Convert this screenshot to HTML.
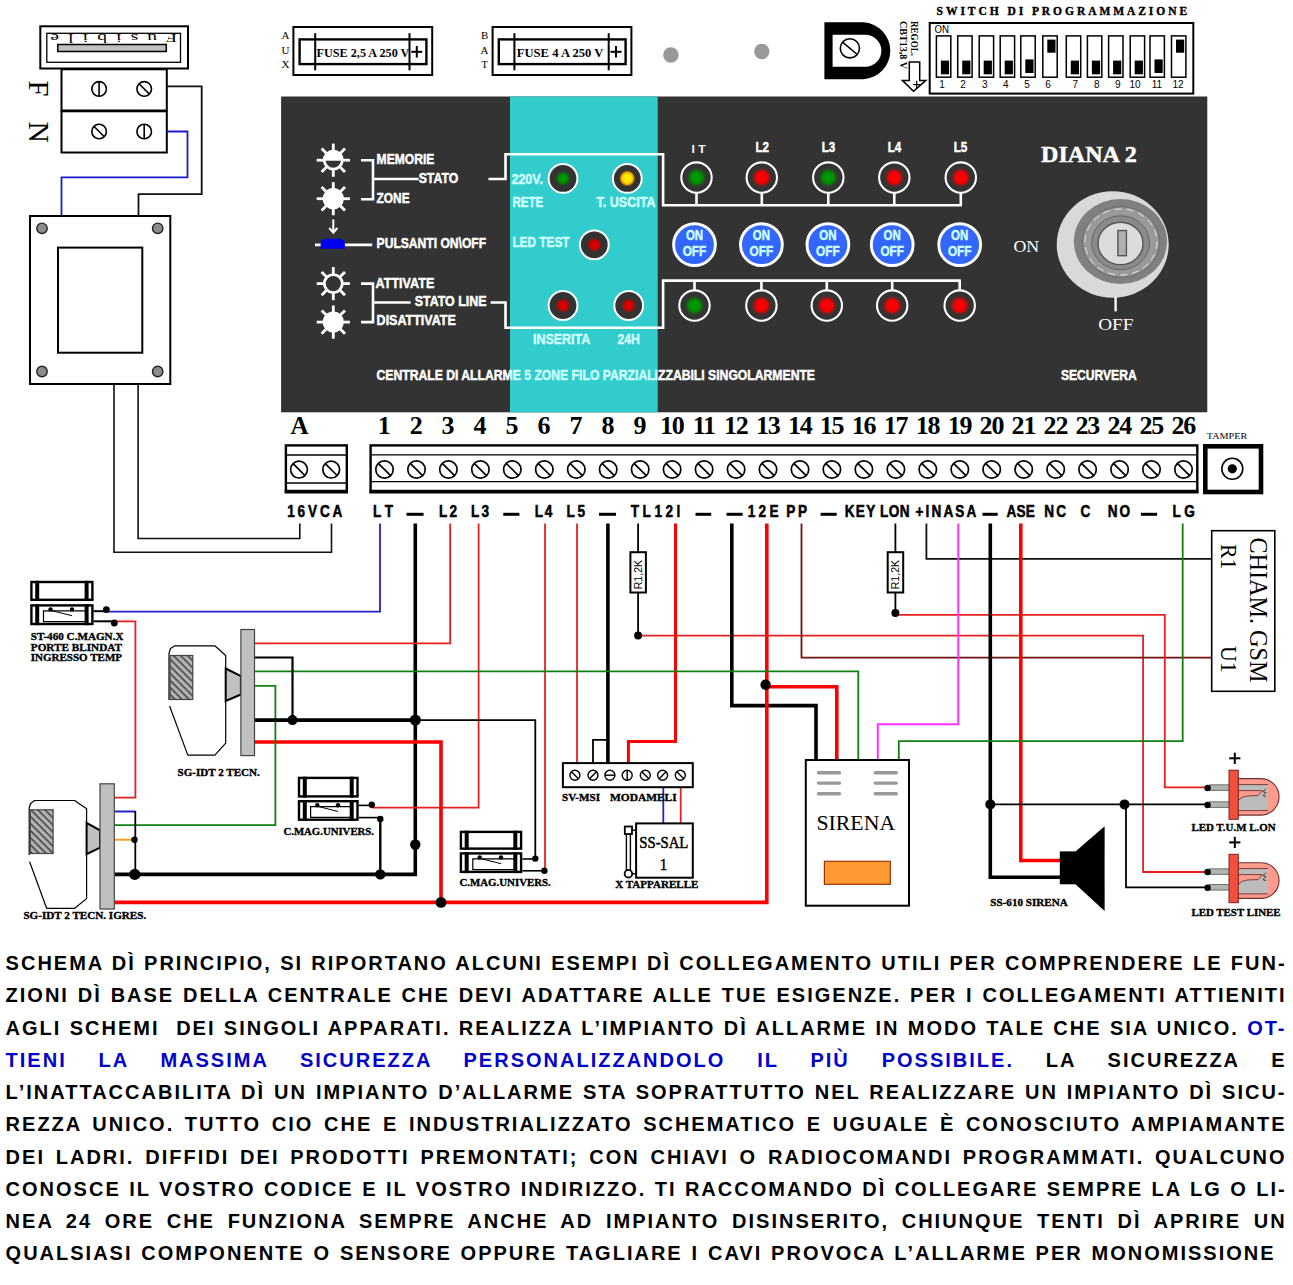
<!DOCTYPE html>
<html lang="it"><head><meta charset="utf-8"><title>DIANA 2 - schema di principio</title>
<style>
html,body{margin:0;padding:0;background:#fff}
#pg{position:relative;width:1293px;height:1285px;overflow:hidden;background:#fff}
svg{position:absolute;left:0;top:0}
.ln{position:absolute;left:5.6px;height:32px;white-space:pre;font:bold 20px/32px "Liberation Sans",sans-serif;letter-spacing:2.0px;color:#000}
.ln b{color:#0000cc;font-weight:bold}
</style></head><body><div id="pg">
<svg width="1293" height="945" viewBox="0 0 1293 945">
<defs>
<radialGradient id="gG"><stop offset="0" stop-color="#00a000"/><stop offset="0.55" stop-color="#008a00"/><stop offset="1" stop-color="#333" stop-opacity="0"/></radialGradient>
<radialGradient id="gR"><stop offset="0" stop-color="#ff0000"/><stop offset="0.55" stop-color="#f00000"/><stop offset="1" stop-color="#333" stop-opacity="0"/></radialGradient>
<radialGradient id="gY"><stop offset="0" stop-color="#ffee00"/><stop offset="0.55" stop-color="#ffe000"/><stop offset="0.8" stop-color="#d07800"/><stop offset="1" stop-color="#333" stop-opacity="0"/></radialGradient>
<radialGradient id="gD"><stop offset="0" stop-color="#e00000"/><stop offset="0.55" stop-color="#cc0000"/><stop offset="1" stop-color="#333" stop-opacity="0"/></radialGradient>
<pattern id="hatch" width="5" height="5" patternUnits="userSpaceOnUse" patternTransform="rotate(45)"><rect width="5" height="5" fill="#b4b4b4"/><rect width="5" height="1.6" fill="#444"/></pattern>
</defs>
<rect x="40.3" y="26.3" width="147.7" height="42.2" fill="#fff" stroke="#000" stroke-width="2" />
<rect x="46.8" y="33.3" width="133.7" height="29.0" fill="#fff" stroke="#000" stroke-width="1.3" />
<rect x="57.8" y="44.5" width="108.5" height="7.0" fill="#c0c0c0" stroke="#000" stroke-width="1.5" />
<g transform="rotate(180 113.6 39)">
<g transform="translate(50.2 43.7) scale(1.45 1)">
<text x="0.0" y="0.0" font-family='"Liberation Serif", serif' font-size="13.5" font-weight="normal" fill="#000" textLength="87.4" lengthAdjust="spacing" >Fusibile</text>
</g>
</g>
<rect x="61.5" y="69.3" width="105.3" height="41.2" fill="#fff" stroke="#000" stroke-width="2" />
<rect x="61.5" y="111.3" width="105.3" height="41.2" fill="#fff" stroke="#000" stroke-width="2" />
<circle cx="99.1" cy="88.9" r="7.3" fill="#fff" stroke="#000" stroke-width="1.6" />
<line x1="99.1" y1="81.6" x2="99.1" y2="96.2" stroke="#000" stroke-width="1.6"/>
<circle cx="144.2" cy="88.9" r="7.3" fill="#fff" stroke="#000" stroke-width="1.6" />
<line x1="139.0" y1="83.7" x2="149.4" y2="94.1" stroke="#000" stroke-width="1.6"/>
<circle cx="99.1" cy="131.5" r="7.3" fill="#fff" stroke="#000" stroke-width="1.6" />
<line x1="93.9" y1="126.3" x2="104.3" y2="136.7" stroke="#000" stroke-width="1.6"/>
<circle cx="144.2" cy="131.5" r="7.3" fill="#fff" stroke="#000" stroke-width="1.6" />
<line x1="144.2" y1="124.2" x2="144.2" y2="138.8" stroke="#000" stroke-width="1.6"/>
<g transform="translate(29.3 80.6) rotate(90)">
<text x="0.0" y="0.0" font-family='"Liberation Serif", serif' font-size="30" font-weight="normal" fill="#000" textLength="16.0" lengthAdjust="spacingAndGlyphs" >F</text>
</g>
<g transform="translate(29.3 121.6) rotate(90)">
<text x="0.0" y="0.0" font-family='"Liberation Serif", serif' font-size="30" font-weight="normal" fill="#000" textLength="21.5" lengthAdjust="spacingAndGlyphs" >N</text>
</g>
<polyline points="166.8,86.4 201.7,86.4 201.7,194.2 138.5,194.2 138.5,215.4" fill="none" stroke="#111" stroke-width="1.8" />
<polyline points="166.8,131.5 187.5,131.5 187.5,177.3 61.5,177.3 61.5,215.4" fill="none" stroke="#1a1acc" stroke-width="1.8" />
<rect x="30.0" y="216.0" width="140.3" height="168.0" fill="#fff" stroke="#000" stroke-width="2" />
<rect x="58.0" y="247.6" width="84.3" height="105.1" fill="#fff" stroke="#000" stroke-width="2" />
<circle cx="42.0" cy="228.3" r="5.2" fill="#8c8c8c" stroke="#222" stroke-width="1.4" />
<circle cx="157.7" cy="228.3" r="5.2" fill="#8c8c8c" stroke="#222" stroke-width="1.4" />
<circle cx="42.0" cy="371.5" r="5.2" fill="#8c8c8c" stroke="#222" stroke-width="1.4" />
<circle cx="157.7" cy="371.5" r="5.2" fill="#8c8c8c" stroke="#222" stroke-width="1.4" />
<polyline points="138.1,384.0 138.1,538.5 299.8,538.5 299.8,523.6" fill="none" stroke="#111" stroke-width="1.6" />
<polyline points="114.0,384.0 114.0,552.2 331.5,552.2 331.5,523.6" fill="none" stroke="#111" stroke-width="1.6" />
<rect x="293.4" y="27.0" width="138.8" height="48.0" fill="#fff" stroke="#000" stroke-width="2" />
<rect x="299.6" y="39.4" width="126.8" height="24.7" fill="#fff" stroke="#000" stroke-width="2.4" />
<polyline points="315.2,33.2 315.2,70.3" fill="none" stroke="#000" stroke-width="2" />
<polyline points="409.5,33.2 409.5,70.3" fill="none" stroke="#000" stroke-width="2" />
<text x="316.6" y="57.0" font-family='"Liberation Serif", serif' font-size="13" font-weight="bold" fill="#000" textLength="92.8" lengthAdjust="spacingAndGlyphs" >FUSE 2,5 A 250 V</text>
<polyline points="411.3,51.8 422.3,51.8" fill="none" stroke="#000" stroke-width="2" />
<polyline points="416.8,46.0 416.8,57.6" fill="none" stroke="#000" stroke-width="2" />
<text x="285.4" y="38.8" font-family='"Liberation Serif", serif' font-size="11" font-weight="normal" fill="#000" text-anchor="middle" >A</text>
<text x="285.4" y="53.5" font-family='"Liberation Serif", serif' font-size="11" font-weight="normal" fill="#000" text-anchor="middle" >U</text>
<text x="285.4" y="68.2" font-family='"Liberation Serif", serif' font-size="11" font-weight="normal" fill="#000" text-anchor="middle" >X</text>
<rect x="492.6" y="27.0" width="138.8" height="48.0" fill="#fff" stroke="#000" stroke-width="2" />
<rect x="498.8" y="39.4" width="126.8" height="24.7" fill="#fff" stroke="#000" stroke-width="2.4" />
<polyline points="514.4,33.2 514.4,70.3" fill="none" stroke="#000" stroke-width="2" />
<polyline points="608.7,33.2 608.7,70.3" fill="none" stroke="#000" stroke-width="2" />
<text x="516.8" y="57.0" font-family='"Liberation Serif", serif' font-size="13" font-weight="bold" fill="#000" textLength="86.6" lengthAdjust="spacingAndGlyphs" >FUSE 4 A 250 V</text>
<polyline points="610.5,51.8 621.5,51.8" fill="none" stroke="#000" stroke-width="2" />
<polyline points="616.0,46.0 616.0,57.6" fill="none" stroke="#000" stroke-width="2" />
<text x="484.6" y="38.8" font-family='"Liberation Serif", serif' font-size="11" font-weight="normal" fill="#000" text-anchor="middle" >B</text>
<text x="484.6" y="53.5" font-family='"Liberation Serif", serif' font-size="11" font-weight="normal" fill="#000" text-anchor="middle" >A</text>
<text x="484.6" y="68.2" font-family='"Liberation Serif", serif' font-size="11" font-weight="normal" fill="#000" text-anchor="middle" >T</text>
<circle cx="670.9" cy="55.0" r="7.7" fill="#999" stroke="none" stroke-width="0" />
<circle cx="761.8" cy="51.5" r="7.7" fill="#999" stroke="none" stroke-width="0" />
<path d="M824.4,22.3 H863.5 A28.5,28.5 0 0 1 863.5,79.2 H824.4 Z M832.6,34.7 V66.8 H865.3 A16.05,16.05 0 0 0 865.3,34.7 Z" fill="#000" fill-rule="evenodd"/>
<circle cx="849.9" cy="48.3" r="9.6" fill="#fff" stroke="#000" stroke-width="1.6" />
<line x1="842.5" y1="42.1" x2="857.3" y2="54.5" stroke="#000" stroke-width="1.6"/>
<g transform="translate(910.5 21) rotate(90)">
<text x="0.0" y="0.0" font-family='"Liberation Serif", serif' font-size="9.5" font-weight="bold" fill="#000" textLength="35.0" lengthAdjust="spacingAndGlyphs" >REGOL.</text>
</g>
<g transform="translate(899.5 21) rotate(90)">
<text x="0.0" y="0.0" font-family='"Liberation Serif", serif' font-size="9.5" font-weight="bold" fill="#000" textLength="48.0" lengthAdjust="spacingAndGlyphs" >CBT13,8 V</text>
</g>
<path d="M909.3,61.9 H919.7 V80.4 H925.9 L913.5,91.3 L902.4,80.4 H909.3 Z" fill="#fff" stroke="#000" stroke-width="1.5"/>
<polyline points="913.2,84.6 920.2,84.6" fill="none" stroke="#000" stroke-width="1.2" />
<polyline points="916.7,80.8 916.7,88.4" fill="none" stroke="#000" stroke-width="1.2" />
<text x="936.6" y="15.3" font-family='"Liberation Serif", serif' font-size="11.5" font-weight="bold" fill="#000" textLength="250.5" lengthAdjust="spacing" stroke="#000" stroke-width="0.4" stroke-linejoin="round" >SWITCH DI PROGRAMMAZIONE</text>
<rect x="929.7" y="23.0" width="263.6" height="70.6" fill="#fff" stroke="#000" stroke-width="2" />
<text x="934.5" y="32.9" font-family='"Liberation Sans", sans-serif' font-size="10.5" font-weight="normal" fill="#000" textLength="14.5" lengthAdjust="spacingAndGlyphs" >ON</text>
<rect x="936.4" y="35.9" width="14.4" height="41.3" fill="#fff" stroke="#000" stroke-width="1.5" />
<rect x="940.9" y="60.6" width="8.2" height="13.7" fill="#000" stroke="none" stroke-width="0" />
<text x="942.1" y="88.0" font-family='"Liberation Sans", sans-serif' font-size="10" font-weight="normal" fill="#000" text-anchor="middle" >1</text>
<rect x="957.7" y="35.9" width="14.4" height="41.3" fill="#fff" stroke="#000" stroke-width="1.5" />
<rect x="962.2" y="60.6" width="8.2" height="13.7" fill="#000" stroke="none" stroke-width="0" />
<text x="963.1" y="88.0" font-family='"Liberation Sans", sans-serif' font-size="10" font-weight="normal" fill="#000" text-anchor="middle" >2</text>
<rect x="979.2" y="35.9" width="14.4" height="41.3" fill="#fff" stroke="#000" stroke-width="1.5" />
<rect x="983.7" y="60.6" width="8.2" height="13.7" fill="#000" stroke="none" stroke-width="0" />
<text x="984.7" y="88.0" font-family='"Liberation Sans", sans-serif' font-size="10" font-weight="normal" fill="#000" text-anchor="middle" >3</text>
<rect x="1000.2" y="35.9" width="14.4" height="41.3" fill="#fff" stroke="#000" stroke-width="1.5" />
<rect x="1004.7" y="60.6" width="8.2" height="13.7" fill="#000" stroke="none" stroke-width="0" />
<text x="1005.9" y="88.0" font-family='"Liberation Sans", sans-serif' font-size="10" font-weight="normal" fill="#000" text-anchor="middle" >4</text>
<rect x="1020.8" y="35.9" width="14.4" height="41.3" fill="#fff" stroke="#000" stroke-width="1.5" />
<rect x="1025.3" y="59.4" width="8.2" height="13.6" fill="#000" stroke="none" stroke-width="0" />
<text x="1027.0" y="88.0" font-family='"Liberation Sans", sans-serif' font-size="10" font-weight="normal" fill="#000" text-anchor="middle" >5</text>
<rect x="1042.8" y="35.9" width="14.4" height="41.3" fill="#fff" stroke="#000" stroke-width="1.5" />
<rect x="1047.3" y="39.6" width="8.2" height="13.1" fill="#000" stroke="none" stroke-width="0" />
<text x="1048.0" y="88.0" font-family='"Liberation Sans", sans-serif' font-size="10" font-weight="normal" fill="#000" text-anchor="middle" >6</text>
<rect x="1066.3" y="35.9" width="14.4" height="41.3" fill="#fff" stroke="#000" stroke-width="1.5" />
<rect x="1070.8" y="60.6" width="8.2" height="13.7" fill="#000" stroke="none" stroke-width="0" />
<text x="1075.2" y="88.0" font-family='"Liberation Sans", sans-serif' font-size="10" font-weight="normal" fill="#000" text-anchor="middle" >7</text>
<rect x="1087.4" y="35.9" width="14.4" height="41.3" fill="#fff" stroke="#000" stroke-width="1.5" />
<rect x="1091.9" y="60.6" width="8.2" height="13.7" fill="#000" stroke="none" stroke-width="0" />
<text x="1096.8" y="88.0" font-family='"Liberation Sans", sans-serif' font-size="10" font-weight="normal" fill="#000" text-anchor="middle" >8</text>
<rect x="1108.6" y="35.9" width="14.4" height="41.3" fill="#fff" stroke="#000" stroke-width="1.5" />
<rect x="1113.1" y="60.6" width="8.2" height="13.7" fill="#000" stroke="none" stroke-width="0" />
<text x="1117.8" y="88.0" font-family='"Liberation Sans", sans-serif' font-size="10" font-weight="normal" fill="#000" text-anchor="middle" >9</text>
<rect x="1130.2" y="35.9" width="14.4" height="41.3" fill="#fff" stroke="#000" stroke-width="1.5" />
<rect x="1134.7" y="60.6" width="8.2" height="13.7" fill="#000" stroke="none" stroke-width="0" />
<text x="1135.1" y="88.0" font-family='"Liberation Sans", sans-serif' font-size="10" font-weight="normal" fill="#000" text-anchor="middle" >10</text>
<rect x="1150.0" y="35.9" width="14.4" height="41.3" fill="#fff" stroke="#000" stroke-width="1.5" />
<rect x="1154.5" y="59.4" width="8.2" height="13.6" fill="#000" stroke="none" stroke-width="0" />
<text x="1156.9" y="88.0" font-family='"Liberation Sans", sans-serif' font-size="10" font-weight="normal" fill="#000" text-anchor="middle" >11</text>
<rect x="1171.5" y="35.9" width="14.4" height="41.3" fill="#fff" stroke="#000" stroke-width="1.5" />
<rect x="1176.0" y="39.6" width="8.2" height="13.1" fill="#000" stroke="none" stroke-width="0" />
<text x="1178.0" y="88.0" font-family='"Liberation Sans", sans-serif' font-size="10" font-weight="normal" fill="#000" text-anchor="middle" >12</text>
<rect x="281.1" y="96.5" width="926.2" height="315.8" fill="#333" stroke="none" stroke-width="0" />
<rect x="510.0" y="96.5" width="147.7" height="315.8" fill="#33cccc" stroke="none" stroke-width="0" />
<line x1="333.3" y1="168.7" x2="333.3" y2="176.8" stroke="#fff" stroke-width="2.8"/>
<line x1="327.3" y1="166.2" x2="321.6" y2="171.9" stroke="#fff" stroke-width="2.8"/>
<line x1="324.8" y1="160.2" x2="316.7" y2="160.2" stroke="#fff" stroke-width="2.8"/>
<line x1="327.3" y1="154.2" x2="321.6" y2="148.5" stroke="#fff" stroke-width="2.8"/>
<line x1="333.3" y1="151.7" x2="333.3" y2="143.6" stroke="#fff" stroke-width="2.8"/>
<line x1="339.3" y1="154.2" x2="345.0" y2="148.5" stroke="#fff" stroke-width="2.8"/>
<line x1="341.8" y1="160.2" x2="349.9" y2="160.2" stroke="#fff" stroke-width="2.8"/>
<line x1="339.3" y1="166.2" x2="345.0" y2="171.9" stroke="#fff" stroke-width="2.8"/>
<circle cx="333.3" cy="160.2" r="9.0" fill="#333" stroke="#fff" stroke-width="2.8" />
<path d="M322.9,160.7 A10.4,10.4 0 0 1 343.7,160.7 Z" fill="#fff"/>
<line x1="333.3" y1="207.2" x2="333.3" y2="215.3" stroke="#fff" stroke-width="2.8"/>
<line x1="327.3" y1="204.7" x2="321.6" y2="210.4" stroke="#fff" stroke-width="2.8"/>
<line x1="324.8" y1="198.7" x2="316.7" y2="198.7" stroke="#fff" stroke-width="2.8"/>
<line x1="327.3" y1="192.7" x2="321.6" y2="187.0" stroke="#fff" stroke-width="2.8"/>
<line x1="333.3" y1="190.2" x2="333.3" y2="182.1" stroke="#fff" stroke-width="2.8"/>
<line x1="339.3" y1="192.7" x2="345.0" y2="187.0" stroke="#fff" stroke-width="2.8"/>
<line x1="341.8" y1="198.7" x2="349.9" y2="198.7" stroke="#fff" stroke-width="2.8"/>
<line x1="339.3" y1="204.7" x2="345.0" y2="210.4" stroke="#fff" stroke-width="2.8"/>
<circle cx="333.3" cy="198.7" r="10.6" fill="#fff" stroke="none" stroke-width="0" />
<line x1="333.3" y1="292.1" x2="333.3" y2="300.2" stroke="#fff" stroke-width="2.8"/>
<line x1="327.3" y1="289.6" x2="321.6" y2="295.3" stroke="#fff" stroke-width="2.8"/>
<line x1="324.8" y1="283.6" x2="316.7" y2="283.6" stroke="#fff" stroke-width="2.8"/>
<line x1="327.3" y1="277.6" x2="321.6" y2="271.9" stroke="#fff" stroke-width="2.8"/>
<line x1="333.3" y1="275.1" x2="333.3" y2="267.0" stroke="#fff" stroke-width="2.8"/>
<line x1="339.3" y1="277.6" x2="345.0" y2="271.9" stroke="#fff" stroke-width="2.8"/>
<line x1="341.8" y1="283.6" x2="349.9" y2="283.6" stroke="#fff" stroke-width="2.8"/>
<line x1="339.3" y1="289.6" x2="345.0" y2="295.3" stroke="#fff" stroke-width="2.8"/>
<circle cx="333.3" cy="283.6" r="9.0" fill="#333" stroke="#fff" stroke-width="2.8" />
<line x1="333.3" y1="330.6" x2="333.3" y2="338.7" stroke="#fff" stroke-width="2.8"/>
<line x1="327.3" y1="328.1" x2="321.6" y2="333.8" stroke="#fff" stroke-width="2.8"/>
<line x1="324.8" y1="322.1" x2="316.7" y2="322.1" stroke="#fff" stroke-width="2.8"/>
<line x1="327.3" y1="316.1" x2="321.6" y2="310.4" stroke="#fff" stroke-width="2.8"/>
<line x1="333.3" y1="313.6" x2="333.3" y2="305.5" stroke="#fff" stroke-width="2.8"/>
<line x1="339.3" y1="316.1" x2="345.0" y2="310.4" stroke="#fff" stroke-width="2.8"/>
<line x1="341.8" y1="322.1" x2="349.9" y2="322.1" stroke="#fff" stroke-width="2.8"/>
<line x1="339.3" y1="328.1" x2="345.0" y2="333.8" stroke="#fff" stroke-width="2.8"/>
<circle cx="333.3" cy="322.1" r="10.6" fill="#fff" stroke="none" stroke-width="0" />
<polyline points="333.3,219.5 333.3,232.0" fill="none" stroke="#fff" stroke-width="2" />
<polyline points="329.3,228.0 333.3,232.7 337.3,228.0" fill="none" stroke="#fff" stroke-width="2" />
<polyline points="315.0,244.8 372.2,244.8" fill="none" stroke="#fff" stroke-width="2.8" />
<path d="M320.6,248.8 V244 Q320.6,238.7 327,238.7 H338.5 Q344.9,238.7 344.9,244 V248.8 Z" fill="#0000ee"/>
<polyline points="361.0,160.2 373.0,160.2 373.0,199.2 361.0,199.2" fill="none" stroke="#fff" stroke-width="2.6" />
<polyline points="373.0,179.0 418.7,179.0" fill="none" stroke="#fff" stroke-width="2.6" />
<polyline points="361.0,283.6 373.0,283.6 373.0,322.1 361.0,322.1" fill="none" stroke="#fff" stroke-width="2.6" />
<polyline points="373.0,302.5 410.6,302.5" fill="none" stroke="#fff" stroke-width="2.6" />
<text x="376.6" y="163.9" font-family='"Liberation Sans", sans-serif' font-size="15" font-weight="bold" fill="#fff" textLength="57.7" lengthAdjust="spacingAndGlyphs" stroke="#fff" stroke-width="0.5" stroke-linejoin="round" >MEMORIE</text>
<text x="418.7" y="182.5" font-family='"Liberation Sans", sans-serif' font-size="15" font-weight="bold" fill="#fff" textLength="39.5" lengthAdjust="spacingAndGlyphs" stroke="#fff" stroke-width="0.5" stroke-linejoin="round" >STATO</text>
<text x="376.6" y="202.7" font-family='"Liberation Sans", sans-serif' font-size="15" font-weight="bold" fill="#fff" textLength="33.0" lengthAdjust="spacingAndGlyphs" stroke="#fff" stroke-width="0.5" stroke-linejoin="round" >ZONE</text>
<text x="376.6" y="247.8" font-family='"Liberation Sans", sans-serif' font-size="15" font-weight="bold" fill="#fff" textLength="109.5" lengthAdjust="spacingAndGlyphs" stroke="#fff" stroke-width="0.5" stroke-linejoin="round" >PULSANTI ON\OFF</text>
<text x="375.6" y="287.9" font-family='"Liberation Sans", sans-serif' font-size="15" font-weight="bold" fill="#fff" textLength="58.7" lengthAdjust="spacingAndGlyphs" stroke="#fff" stroke-width="0.5" stroke-linejoin="round" >ATTIVATE</text>
<text x="414.7" y="305.9" font-family='"Liberation Sans", sans-serif' font-size="15" font-weight="bold" fill="#fff" textLength="71.8" lengthAdjust="spacingAndGlyphs" stroke="#fff" stroke-width="0.5" stroke-linejoin="round" >STATO LINE</text>
<text x="376.6" y="325.1" font-family='"Liberation Sans", sans-serif' font-size="15" font-weight="bold" fill="#fff" textLength="79.2" lengthAdjust="spacingAndGlyphs" stroke="#fff" stroke-width="0.5" stroke-linejoin="round" >DISATTIVATE</text>
<polyline points="488.5,179.0 505.5,179.0 505.5,154.3 663.1,154.3 663.1,205.3 961.9,205.3" fill="none" stroke="#fff" stroke-width="2.6" />
<polyline points="490.6,302.5 505.5,302.5 505.5,327.8 663.1,327.8 663.1,280.6 960.8,280.6" fill="none" stroke="#fff" stroke-width="2.6" />
<text x="511.4" y="184.1" font-family='"Liberation Sans", sans-serif' font-size="15" font-weight="bold" fill="#ccffff" textLength="31.7" lengthAdjust="spacingAndGlyphs" stroke="#ccffff" stroke-width="0.5" stroke-linejoin="round" >220V.</text>
<text x="512.4" y="207.4" font-family='"Liberation Sans", sans-serif' font-size="15" font-weight="bold" fill="#ccffff" textLength="30.7" lengthAdjust="spacingAndGlyphs" stroke="#ccffff" stroke-width="0.5" stroke-linejoin="round" >RETE</text>
<text x="596.4" y="207.4" font-family='"Liberation Sans", sans-serif' font-size="15" font-weight="bold" fill="#ccffff" textLength="59.2" lengthAdjust="spacingAndGlyphs" stroke="#ccffff" stroke-width="0.5" stroke-linejoin="round" >T. USCITA</text>
<text x="512.4" y="247.4" font-family='"Liberation Sans", sans-serif' font-size="15" font-weight="bold" fill="#ccffff" textLength="57.2" lengthAdjust="spacingAndGlyphs" stroke="#ccffff" stroke-width="0.5" stroke-linejoin="round" >LED TEST</text>
<text x="533.0" y="344.0" font-family='"Liberation Sans", sans-serif' font-size="15" font-weight="bold" fill="#ccffff" textLength="57.3" lengthAdjust="spacingAndGlyphs" stroke="#ccffff" stroke-width="0.5" stroke-linejoin="round" >INSERITA</text>
<text x="617.6" y="344.0" font-family='"Liberation Sans", sans-serif' font-size="15" font-weight="bold" fill="#ccffff" textLength="22.3" lengthAdjust="spacingAndGlyphs" stroke="#ccffff" stroke-width="0.5" stroke-linejoin="round" >24H</text>
<circle cx="563.0" cy="178.4" r="14.4" fill="#333" stroke="#fff" stroke-width="2" />
<circle cx="563.0" cy="178.4" r="8.5" fill="url(#gG)" stroke="none" stroke-width="0" />
<circle cx="627.3" cy="178.4" r="14.4" fill="#333" stroke="#fff" stroke-width="2" />
<circle cx="627.3" cy="178.4" r="8.5" fill="url(#gY)" stroke="none" stroke-width="0" />
<circle cx="594.3" cy="244.8" r="14.4" fill="#333" stroke="#fff" stroke-width="2" />
<circle cx="594.3" cy="244.8" r="8.5" fill="url(#gD)" stroke="none" stroke-width="0" />
<circle cx="563.0" cy="305.5" r="14.4" fill="#333" stroke="#fff" stroke-width="2" />
<circle cx="563.0" cy="305.5" r="8.5" fill="url(#gD)" stroke="none" stroke-width="0" />
<circle cx="628.7" cy="305.5" r="14.4" fill="#333" stroke="#fff" stroke-width="2" />
<circle cx="628.7" cy="305.5" r="8.5" fill="url(#gD)" stroke="none" stroke-width="0" />
<polyline points="696.5,192.0 696.5,205.3" fill="none" stroke="#fff" stroke-width="2.6" />
<circle cx="696.5" cy="177.6" r="15.2" fill="#333" stroke="#fff" stroke-width="2.1" />
<circle cx="696.5" cy="177.6" r="11.0" fill="url(#gG)" stroke="none" stroke-width="0" />
<polyline points="761.8,192.0 761.8,205.3" fill="none" stroke="#fff" stroke-width="2.6" />
<circle cx="761.8" cy="177.6" r="15.2" fill="#333" stroke="#fff" stroke-width="2.1" />
<circle cx="761.8" cy="177.6" r="11.0" fill="url(#gR)" stroke="none" stroke-width="0" />
<polyline points="828.3,192.0 828.3,205.3" fill="none" stroke="#fff" stroke-width="2.6" />
<circle cx="828.3" cy="177.6" r="15.2" fill="#333" stroke="#fff" stroke-width="2.1" />
<circle cx="828.3" cy="177.6" r="11.0" fill="url(#gG)" stroke="none" stroke-width="0" />
<polyline points="894.3,192.0 894.3,205.3" fill="none" stroke="#fff" stroke-width="2.6" />
<circle cx="894.3" cy="177.6" r="15.2" fill="#333" stroke="#fff" stroke-width="2.1" />
<circle cx="894.3" cy="177.6" r="11.0" fill="url(#gR)" stroke="none" stroke-width="0" />
<polyline points="960.8,192.0 960.8,205.3" fill="none" stroke="#fff" stroke-width="2.6" />
<circle cx="960.8" cy="177.6" r="15.2" fill="#333" stroke="#fff" stroke-width="2.1" />
<circle cx="960.8" cy="177.6" r="11.0" fill="url(#gR)" stroke="none" stroke-width="0" />
<polyline points="694.5,280.6 694.5,292.0" fill="none" stroke="#fff" stroke-width="2.6" />
<circle cx="694.5" cy="305.6" r="15.2" fill="#333" stroke="#fff" stroke-width="2.1" />
<circle cx="694.5" cy="305.6" r="11.0" fill="url(#gG)" stroke="none" stroke-width="0" />
<polyline points="761.4,280.6 761.4,292.0" fill="none" stroke="#fff" stroke-width="2.6" />
<circle cx="761.4" cy="305.6" r="15.2" fill="#333" stroke="#fff" stroke-width="2.1" />
<circle cx="761.4" cy="305.6" r="11.0" fill="url(#gR)" stroke="none" stroke-width="0" />
<polyline points="826.8,280.6 826.8,292.0" fill="none" stroke="#fff" stroke-width="2.6" />
<circle cx="826.8" cy="305.6" r="15.2" fill="#333" stroke="#fff" stroke-width="2.1" />
<circle cx="826.8" cy="305.6" r="11.0" fill="url(#gR)" stroke="none" stroke-width="0" />
<polyline points="892.2,280.6 892.2,292.0" fill="none" stroke="#fff" stroke-width="2.6" />
<circle cx="892.2" cy="305.6" r="15.2" fill="#333" stroke="#fff" stroke-width="2.1" />
<circle cx="892.2" cy="305.6" r="11.0" fill="url(#gR)" stroke="none" stroke-width="0" />
<polyline points="959.7,280.6 959.7,292.0" fill="none" stroke="#fff" stroke-width="2.6" />
<circle cx="959.7" cy="305.6" r="15.2" fill="#333" stroke="#fff" stroke-width="2.1" />
<circle cx="959.7" cy="305.6" r="11.0" fill="url(#gR)" stroke="none" stroke-width="0" />
<text x="691.5" y="152.7" font-family='"Liberation Sans", sans-serif' font-size="10" font-weight="bold" fill="#fff" textLength="14.1" lengthAdjust="spacingAndGlyphs" >I T</text>
<text x="755.4" y="151.7" font-family='"Liberation Sans", sans-serif' font-size="15" font-weight="bold" fill="#fff" textLength="13.6" lengthAdjust="spacingAndGlyphs" stroke="#fff" stroke-width="0.5" stroke-linejoin="round" >L2</text>
<text x="821.7" y="151.7" font-family='"Liberation Sans", sans-serif' font-size="15" font-weight="bold" fill="#fff" textLength="13.6" lengthAdjust="spacingAndGlyphs" stroke="#fff" stroke-width="0.5" stroke-linejoin="round" >L3</text>
<text x="887.7" y="151.7" font-family='"Liberation Sans", sans-serif' font-size="15" font-weight="bold" fill="#fff" textLength="13.6" lengthAdjust="spacingAndGlyphs" stroke="#fff" stroke-width="0.5" stroke-linejoin="round" >L4</text>
<text x="953.7" y="151.7" font-family='"Liberation Sans", sans-serif' font-size="15" font-weight="bold" fill="#fff" textLength="13.6" lengthAdjust="spacingAndGlyphs" stroke="#fff" stroke-width="0.5" stroke-linejoin="round" >L5</text>
<circle cx="694.5" cy="244.7" r="20.9" fill="#3366ff" stroke="#fff" stroke-width="3" />
<text x="685.9" y="239.7" font-family='"Liberation Sans", sans-serif' font-size="15" font-weight="bold" fill="#ccffff" textLength="17.2" lengthAdjust="spacingAndGlyphs" stroke="#ccffff" stroke-width="0.5" stroke-linejoin="round" >ON</text>
<text x="682.7" y="255.9" font-family='"Liberation Sans", sans-serif' font-size="15" font-weight="bold" fill="#ccffff" textLength="23.6" lengthAdjust="spacingAndGlyphs" stroke="#ccffff" stroke-width="0.5" stroke-linejoin="round" >OFF</text>
<circle cx="761.4" cy="244.7" r="20.9" fill="#3366ff" stroke="#fff" stroke-width="3" />
<text x="752.8" y="239.7" font-family='"Liberation Sans", sans-serif' font-size="15" font-weight="bold" fill="#ccffff" textLength="17.2" lengthAdjust="spacingAndGlyphs" stroke="#ccffff" stroke-width="0.5" stroke-linejoin="round" >ON</text>
<text x="749.6" y="255.9" font-family='"Liberation Sans", sans-serif' font-size="15" font-weight="bold" fill="#ccffff" textLength="23.6" lengthAdjust="spacingAndGlyphs" stroke="#ccffff" stroke-width="0.5" stroke-linejoin="round" >OFF</text>
<circle cx="827.9" cy="244.7" r="20.9" fill="#3366ff" stroke="#fff" stroke-width="3" />
<text x="819.3" y="239.7" font-family='"Liberation Sans", sans-serif' font-size="15" font-weight="bold" fill="#ccffff" textLength="17.2" lengthAdjust="spacingAndGlyphs" stroke="#ccffff" stroke-width="0.5" stroke-linejoin="round" >ON</text>
<text x="816.1" y="255.9" font-family='"Liberation Sans", sans-serif' font-size="15" font-weight="bold" fill="#ccffff" textLength="23.6" lengthAdjust="spacingAndGlyphs" stroke="#ccffff" stroke-width="0.5" stroke-linejoin="round" >OFF</text>
<circle cx="892.2" cy="244.7" r="20.9" fill="#3366ff" stroke="#fff" stroke-width="3" />
<text x="883.6" y="239.7" font-family='"Liberation Sans", sans-serif' font-size="15" font-weight="bold" fill="#ccffff" textLength="17.2" lengthAdjust="spacingAndGlyphs" stroke="#ccffff" stroke-width="0.5" stroke-linejoin="round" >ON</text>
<text x="880.4" y="255.9" font-family='"Liberation Sans", sans-serif' font-size="15" font-weight="bold" fill="#ccffff" textLength="23.6" lengthAdjust="spacingAndGlyphs" stroke="#ccffff" stroke-width="0.5" stroke-linejoin="round" >OFF</text>
<circle cx="959.7" cy="244.7" r="20.9" fill="#3366ff" stroke="#fff" stroke-width="3" />
<text x="951.1" y="239.7" font-family='"Liberation Sans", sans-serif' font-size="15" font-weight="bold" fill="#ccffff" textLength="17.2" lengthAdjust="spacingAndGlyphs" stroke="#ccffff" stroke-width="0.5" stroke-linejoin="round" >ON</text>
<text x="947.9" y="255.9" font-family='"Liberation Sans", sans-serif' font-size="15" font-weight="bold" fill="#ccffff" textLength="23.6" lengthAdjust="spacingAndGlyphs" stroke="#ccffff" stroke-width="0.5" stroke-linejoin="round" >OFF</text>
<text x="1041.1" y="161.9" font-family='"Liberation Serif", serif' font-size="24" font-weight="bold" fill="#fff" textLength="95.6" lengthAdjust="spacingAndGlyphs" stroke="#fff" stroke-width="0.5" stroke-linejoin="round" >DIANA 2</text>
<ellipse cx="1112.7" cy="244.5" rx="56" ry="53.2" fill="#d9d9d9"/>
<ellipse cx="1120.4" cy="241.5" rx="46.6" ry="42.4" fill="#808080"/>
<ellipse cx="1121" cy="242" rx="38.5" ry="35.3" fill="#999" stroke="#6a6a6a" stroke-width="1"/>
<ellipse cx="1121" cy="242" rx="36" ry="33" fill="none" stroke="#e6e6e6" stroke-width="1" stroke-dasharray="7 5"/>
<ellipse cx="1120.6" cy="242.8" rx="28.9" ry="27" fill="#8a8a8a" stroke="#666" stroke-width="1"/>
<ellipse cx="1120.5" cy="243.4" rx="22.5" ry="21.2" fill="#dcdcdc" stroke="#555" stroke-width="1.4"/>
<rect x="1117.9" y="230.5" width="8.5" height="25.2" fill="#b0b0b0" stroke="#555" stroke-width="1.4" />
<polyline points="1115.6,297.0 1115.6,311.4" fill="none" stroke="#fff" stroke-width="2.4" />
<text x="1013.4" y="252.3" font-family='"Liberation Serif", serif' font-size="16" font-weight="normal" fill="#fff" textLength="25.7" lengthAdjust="spacingAndGlyphs" >ON</text>
<text x="1098.2" y="330.2" font-family='"Liberation Serif", serif' font-size="16" font-weight="normal" fill="#fff" textLength="35.2" lengthAdjust="spacingAndGlyphs" >OFF</text>
<text x="1060.9" y="379.8" font-family='"Liberation Sans", sans-serif' font-size="15" font-weight="bold" fill="#fff" textLength="75.8" lengthAdjust="spacingAndGlyphs" stroke="#fff" stroke-width="0.5" stroke-linejoin="round" >SECURVERA</text>
<clipPath id="cOut"><rect x="281" y="360" width="229" height="30"/><rect x="657.7" y="360" width="300" height="30"/></clipPath><clipPath id="cIn"><rect x="510" y="360" width="147.7" height="30"/></clipPath>
<g clip-path="url(#cOut)">
<text x="376.5" y="379.8" font-family='"Liberation Sans", sans-serif' font-size="15" font-weight="bold" fill="#fff" textLength="438.5" lengthAdjust="spacingAndGlyphs" stroke="#fff" stroke-width="0.5" stroke-linejoin="round" >CENTRALE DI ALLARME 5 ZONE FILO PARZIALIZZABILI SINGOLARMENTE</text>
</g>
<g clip-path="url(#cIn)">
<text x="376.5" y="379.8" font-family='"Liberation Sans", sans-serif' font-size="15" font-weight="bold" fill="#ccffff" textLength="438.5" lengthAdjust="spacingAndGlyphs" stroke="#ccffff" stroke-width="0.5" stroke-linejoin="round" >CENTRALE DI ALLARME 5 ZONE FILO PARZIALIZZABILI SINGOLARMENTE</text>
</g>
<text x="299.6" y="434.4" font-family='"Liberation Serif", serif' font-size="25" font-weight="bold" fill="#000" text-anchor="middle" >A</text>
<rect x="285.9" y="445.4" width="60.9" height="46.1" fill="#fff" stroke="#000" stroke-width="2.4" />
<polyline points="284.7,491.6 348.0,491.6" fill="none" stroke="#000" stroke-width="3.8" />
<polyline points="286.0,455.0 346.5,455.0" fill="none" stroke="#000" stroke-width="1.3" />
<polyline points="286.0,483.0 346.5,483.0" fill="none" stroke="#000" stroke-width="1.3" />
<circle cx="299.0" cy="469.6" r="8.4" fill="#fff" stroke="#000" stroke-width="1.7" />
<line x1="293.1" y1="463.7" x2="304.9" y2="475.5" stroke="#000" stroke-width="1.7"/>
<circle cx="331.2" cy="469.6" r="8.4" fill="#fff" stroke="#000" stroke-width="1.7" />
<line x1="325.3" y1="463.7" x2="337.1" y2="475.5" stroke="#000" stroke-width="1.7"/>
<g transform="translate(287.2 517.2) scale(0.8 1)">
<text x="0.0" y="0.0" font-family='"Liberation Sans", sans-serif' font-size="17" font-weight="bold" fill="#000" textLength="69.0" lengthAdjust="spacing" stroke="#000" stroke-width="0.55" stroke-linejoin="round" >16VCA</text>
</g>
<rect x="370.6" y="445.4" width="826.7" height="46.0" fill="#fff" stroke="#000" stroke-width="2.4" />
<polyline points="369.4,491.6 1198.5,491.6" fill="none" stroke="#000" stroke-width="3.8" />
<polyline points="371.0,454.8 1197.0,454.8" fill="none" stroke="#000" stroke-width="1.3" />
<polyline points="371.0,481.6 1197.0,481.6" fill="none" stroke="#000" stroke-width="1.3" />
<circle cx="384.5" cy="469.5" r="8.7" fill="#fff" stroke="#000" stroke-width="1.7" />
<line x1="378.3" y1="463.3" x2="390.7" y2="475.7" stroke="#000" stroke-width="1.7"/>
<text x="384.2" y="434.3" font-family='"Liberation Serif", serif' font-size="26" font-weight="bold" fill="#000" text-anchor="middle" >1</text>
<circle cx="416.5" cy="469.5" r="8.7" fill="#fff" stroke="#000" stroke-width="1.7" />
<line x1="410.3" y1="463.3" x2="422.6" y2="475.7" stroke="#000" stroke-width="1.7"/>
<text x="416.2" y="434.3" font-family='"Liberation Serif", serif' font-size="26" font-weight="bold" fill="#000" text-anchor="middle" >2</text>
<circle cx="448.4" cy="469.5" r="8.7" fill="#fff" stroke="#000" stroke-width="1.7" />
<line x1="442.3" y1="463.3" x2="454.6" y2="475.7" stroke="#000" stroke-width="1.7"/>
<text x="448.1" y="434.3" font-family='"Liberation Serif", serif' font-size="26" font-weight="bold" fill="#000" text-anchor="middle" >3</text>
<circle cx="480.4" cy="469.5" r="8.7" fill="#fff" stroke="#000" stroke-width="1.7" />
<line x1="474.2" y1="463.3" x2="486.5" y2="475.7" stroke="#000" stroke-width="1.7"/>
<text x="480.1" y="434.3" font-family='"Liberation Serif", serif' font-size="26" font-weight="bold" fill="#000" text-anchor="middle" >4</text>
<circle cx="512.3" cy="469.5" r="8.7" fill="#fff" stroke="#000" stroke-width="1.7" />
<line x1="506.2" y1="463.3" x2="518.5" y2="475.7" stroke="#000" stroke-width="1.7"/>
<text x="512.0" y="434.3" font-family='"Liberation Serif", serif' font-size="26" font-weight="bold" fill="#000" text-anchor="middle" >5</text>
<circle cx="544.3" cy="469.5" r="8.7" fill="#fff" stroke="#000" stroke-width="1.7" />
<line x1="538.1" y1="463.3" x2="550.5" y2="475.7" stroke="#000" stroke-width="1.7"/>
<text x="544.0" y="434.3" font-family='"Liberation Serif", serif' font-size="26" font-weight="bold" fill="#000" text-anchor="middle" >6</text>
<circle cx="576.3" cy="469.5" r="8.7" fill="#fff" stroke="#000" stroke-width="1.7" />
<line x1="570.1" y1="463.3" x2="582.4" y2="475.7" stroke="#000" stroke-width="1.7"/>
<text x="576.0" y="434.3" font-family='"Liberation Serif", serif' font-size="26" font-weight="bold" fill="#000" text-anchor="middle" >7</text>
<circle cx="608.2" cy="469.5" r="8.7" fill="#fff" stroke="#000" stroke-width="1.7" />
<line x1="602.1" y1="463.3" x2="614.4" y2="475.7" stroke="#000" stroke-width="1.7"/>
<text x="607.9" y="434.3" font-family='"Liberation Serif", serif' font-size="26" font-weight="bold" fill="#000" text-anchor="middle" >8</text>
<circle cx="640.2" cy="469.5" r="8.7" fill="#fff" stroke="#000" stroke-width="1.7" />
<line x1="634.0" y1="463.3" x2="646.3" y2="475.7" stroke="#000" stroke-width="1.7"/>
<text x="639.9" y="434.3" font-family='"Liberation Serif", serif' font-size="26" font-weight="bold" fill="#000" text-anchor="middle" >9</text>
<circle cx="672.1" cy="469.5" r="8.7" fill="#fff" stroke="#000" stroke-width="1.7" />
<line x1="666.0" y1="463.3" x2="678.3" y2="475.7" stroke="#000" stroke-width="1.7"/>
<text x="671.8" y="434.3" font-family='"Liberation Serif", serif' font-size="26" font-weight="bold" fill="#000" text-anchor="middle" letter-spacing="-1.2" >10</text>
<circle cx="704.1" cy="469.5" r="8.7" fill="#fff" stroke="#000" stroke-width="1.7" />
<line x1="697.9" y1="463.3" x2="710.3" y2="475.7" stroke="#000" stroke-width="1.7"/>
<text x="703.8" y="434.3" font-family='"Liberation Serif", serif' font-size="26" font-weight="bold" fill="#000" text-anchor="middle" letter-spacing="-1.2" >11</text>
<circle cx="736.1" cy="469.5" r="8.7" fill="#fff" stroke="#000" stroke-width="1.7" />
<line x1="729.9" y1="463.3" x2="742.2" y2="475.7" stroke="#000" stroke-width="1.7"/>
<text x="735.8" y="434.3" font-family='"Liberation Serif", serif' font-size="26" font-weight="bold" fill="#000" text-anchor="middle" letter-spacing="-1.2" >12</text>
<circle cx="768.0" cy="469.5" r="8.7" fill="#fff" stroke="#000" stroke-width="1.7" />
<line x1="761.9" y1="463.3" x2="774.2" y2="475.7" stroke="#000" stroke-width="1.7"/>
<text x="767.7" y="434.3" font-family='"Liberation Serif", serif' font-size="26" font-weight="bold" fill="#000" text-anchor="middle" letter-spacing="-1.2" >13</text>
<circle cx="800.0" cy="469.5" r="8.7" fill="#fff" stroke="#000" stroke-width="1.7" />
<line x1="793.8" y1="463.3" x2="806.1" y2="475.7" stroke="#000" stroke-width="1.7"/>
<text x="799.7" y="434.3" font-family='"Liberation Serif", serif' font-size="26" font-weight="bold" fill="#000" text-anchor="middle" letter-spacing="-1.2" >14</text>
<circle cx="831.9" cy="469.5" r="8.7" fill="#fff" stroke="#000" stroke-width="1.7" />
<line x1="825.8" y1="463.3" x2="838.1" y2="475.7" stroke="#000" stroke-width="1.7"/>
<text x="831.6" y="434.3" font-family='"Liberation Serif", serif' font-size="26" font-weight="bold" fill="#000" text-anchor="middle" letter-spacing="-1.2" >15</text>
<circle cx="863.9" cy="469.5" r="8.7" fill="#fff" stroke="#000" stroke-width="1.7" />
<line x1="857.7" y1="463.3" x2="870.1" y2="475.7" stroke="#000" stroke-width="1.7"/>
<text x="863.6" y="434.3" font-family='"Liberation Serif", serif' font-size="26" font-weight="bold" fill="#000" text-anchor="middle" letter-spacing="-1.2" >16</text>
<circle cx="895.9" cy="469.5" r="8.7" fill="#fff" stroke="#000" stroke-width="1.7" />
<line x1="889.7" y1="463.3" x2="902.0" y2="475.7" stroke="#000" stroke-width="1.7"/>
<text x="895.6" y="434.3" font-family='"Liberation Serif", serif' font-size="26" font-weight="bold" fill="#000" text-anchor="middle" letter-spacing="-1.2" >17</text>
<circle cx="927.8" cy="469.5" r="8.7" fill="#fff" stroke="#000" stroke-width="1.7" />
<line x1="921.7" y1="463.3" x2="934.0" y2="475.7" stroke="#000" stroke-width="1.7"/>
<text x="927.5" y="434.3" font-family='"Liberation Serif", serif' font-size="26" font-weight="bold" fill="#000" text-anchor="middle" letter-spacing="-1.2" >18</text>
<circle cx="959.8" cy="469.5" r="8.7" fill="#fff" stroke="#000" stroke-width="1.7" />
<line x1="953.6" y1="463.3" x2="965.9" y2="475.7" stroke="#000" stroke-width="1.7"/>
<text x="959.5" y="434.3" font-family='"Liberation Serif", serif' font-size="26" font-weight="bold" fill="#000" text-anchor="middle" letter-spacing="-1.2" >19</text>
<circle cx="991.7" cy="469.5" r="8.7" fill="#fff" stroke="#000" stroke-width="1.7" />
<line x1="985.6" y1="463.3" x2="997.9" y2="475.7" stroke="#000" stroke-width="1.7"/>
<text x="991.4" y="434.3" font-family='"Liberation Serif", serif' font-size="26" font-weight="bold" fill="#000" text-anchor="middle" letter-spacing="-1.2" >20</text>
<circle cx="1023.7" cy="469.5" r="8.7" fill="#fff" stroke="#000" stroke-width="1.7" />
<line x1="1017.5" y1="463.3" x2="1029.9" y2="475.7" stroke="#000" stroke-width="1.7"/>
<text x="1023.4" y="434.3" font-family='"Liberation Serif", serif' font-size="26" font-weight="bold" fill="#000" text-anchor="middle" letter-spacing="-1.2" >21</text>
<circle cx="1055.7" cy="469.5" r="8.7" fill="#fff" stroke="#000" stroke-width="1.7" />
<line x1="1049.5" y1="463.3" x2="1061.8" y2="475.7" stroke="#000" stroke-width="1.7"/>
<text x="1055.4" y="434.3" font-family='"Liberation Serif", serif' font-size="26" font-weight="bold" fill="#000" text-anchor="middle" letter-spacing="-1.2" >22</text>
<circle cx="1087.6" cy="469.5" r="8.7" fill="#fff" stroke="#000" stroke-width="1.7" />
<line x1="1081.5" y1="463.3" x2="1093.8" y2="475.7" stroke="#000" stroke-width="1.7"/>
<text x="1087.3" y="434.3" font-family='"Liberation Serif", serif' font-size="26" font-weight="bold" fill="#000" text-anchor="middle" letter-spacing="-1.2" >23</text>
<circle cx="1119.6" cy="469.5" r="8.7" fill="#fff" stroke="#000" stroke-width="1.7" />
<line x1="1113.4" y1="463.3" x2="1125.7" y2="475.7" stroke="#000" stroke-width="1.7"/>
<text x="1119.3" y="434.3" font-family='"Liberation Serif", serif' font-size="26" font-weight="bold" fill="#000" text-anchor="middle" letter-spacing="-1.2" >24</text>
<circle cx="1151.5" cy="469.5" r="8.7" fill="#fff" stroke="#000" stroke-width="1.7" />
<line x1="1145.4" y1="463.3" x2="1157.7" y2="475.7" stroke="#000" stroke-width="1.7"/>
<text x="1151.2" y="434.3" font-family='"Liberation Serif", serif' font-size="26" font-weight="bold" fill="#000" text-anchor="middle" letter-spacing="-1.2" >25</text>
<circle cx="1183.5" cy="469.5" r="8.7" fill="#fff" stroke="#000" stroke-width="1.7" />
<line x1="1177.3" y1="463.3" x2="1189.7" y2="475.7" stroke="#000" stroke-width="1.7"/>
<text x="1183.2" y="434.3" font-family='"Liberation Serif", serif' font-size="26" font-weight="bold" fill="#000" text-anchor="middle" letter-spacing="-1.2" >26</text>
<g transform="translate(373.0 516.8) scale(0.8 1)">
<text x="0.0" y="0.0" font-family='"Liberation Sans", sans-serif' font-size="17" font-weight="bold" fill="#000" textLength="25.0" lengthAdjust="spacing" stroke="#000" stroke-width="0.55" stroke-linejoin="round" >LT</text>
</g>
<polyline points="406.5,514.3 423.6,514.3" fill="none" stroke="#000" stroke-width="3" />
<g transform="translate(439.0 516.8) scale(0.8 1)">
<text x="0.0" y="0.0" font-family='"Liberation Sans", sans-serif' font-size="17" font-weight="bold" fill="#000" textLength="22.5" lengthAdjust="spacing" stroke="#000" stroke-width="0.55" stroke-linejoin="round" >L2</text>
</g>
<g transform="translate(471.0 516.8) scale(0.8 1)">
<text x="0.0" y="0.0" font-family='"Liberation Sans", sans-serif' font-size="17" font-weight="bold" fill="#000" textLength="22.5" lengthAdjust="spacing" stroke="#000" stroke-width="0.55" stroke-linejoin="round" >L3</text>
</g>
<polyline points="503.3,514.3 519.4,514.3" fill="none" stroke="#000" stroke-width="3" />
<g transform="translate(534.7 516.8) scale(0.8 1)">
<text x="0.0" y="0.0" font-family='"Liberation Sans", sans-serif' font-size="17" font-weight="bold" fill="#000" textLength="22.1" lengthAdjust="spacing" stroke="#000" stroke-width="0.55" stroke-linejoin="round" >L4</text>
</g>
<g transform="translate(566.5 516.8) scale(0.8 1)">
<text x="0.0" y="0.0" font-family='"Liberation Sans", sans-serif' font-size="17" font-weight="bold" fill="#000" textLength="23.1" lengthAdjust="spacing" stroke="#000" stroke-width="0.55" stroke-linejoin="round" >L5</text>
</g>
<polyline points="599.0,514.3 616.0,514.3" fill="none" stroke="#000" stroke-width="3" />
<g transform="translate(630.8 516.8) scale(0.8 1)">
<text x="0.0" y="0.0" font-family='"Liberation Sans", sans-serif' font-size="17" font-weight="bold" fill="#000" textLength="61.9" lengthAdjust="spacing" stroke="#000" stroke-width="0.55" stroke-linejoin="round" >TL12I</text>
</g>
<polyline points="695.5,514.3 711.2,514.3" fill="none" stroke="#000" stroke-width="3" />
<polyline points="726.5,514.3 742.6,514.3" fill="none" stroke="#000" stroke-width="3" />
<g transform="translate(747.8 516.8) scale(0.8 1)">
<text x="0.0" y="0.0" font-family='"Liberation Sans", sans-serif' font-size="17" font-weight="bold" fill="#000" textLength="38.4" lengthAdjust="spacing" stroke="#000" stroke-width="0.55" stroke-linejoin="round" >12E</text>
</g>
<g transform="translate(786.2 516.8) scale(0.8 1)">
<text x="0.0" y="0.0" font-family='"Liberation Sans", sans-serif' font-size="17" font-weight="bold" fill="#000" textLength="26.2" lengthAdjust="spacing" stroke="#000" stroke-width="0.55" stroke-linejoin="round" >PP</text>
</g>
<polyline points="820.6,514.3 836.7,514.3" fill="none" stroke="#000" stroke-width="3" />
<g transform="translate(844.8 516.8) scale(0.8 1)">
<text x="0.0" y="0.0" font-family='"Liberation Sans", sans-serif' font-size="17" font-weight="bold" fill="#000" textLength="38.0" lengthAdjust="spacing" stroke="#000" stroke-width="0.55" stroke-linejoin="round" >KEY</text>
</g>
<g transform="translate(880.0 516.8) scale(0.8 1)">
<text x="0.0" y="0.0" font-family='"Liberation Sans", sans-serif' font-size="17" font-weight="bold" fill="#000" textLength="36.9" lengthAdjust="spacing" stroke="#000" stroke-width="0.55" stroke-linejoin="round" >LON</text>
</g>
<g transform="translate(915.6 516.8) scale(0.8 1)">
<text x="0.0" y="0.0" font-family='"Liberation Sans", sans-serif' font-size="17" font-weight="bold" fill="#000" textLength="75.9" lengthAdjust="spacing" stroke="#000" stroke-width="0.55" stroke-linejoin="round" >+INASA</text>
</g>
<polyline points="982.4,514.3 997.7,514.3" fill="none" stroke="#000" stroke-width="3" />
<g transform="translate(1006.6 516.8) scale(0.8 1)">
<text x="0.0" y="0.0" font-family='"Liberation Sans", sans-serif' font-size="17" font-weight="bold" fill="#000" textLength="35.4" lengthAdjust="spacing" stroke="#000" stroke-width="0.55" stroke-linejoin="round" >ASE</text>
</g>
<g transform="translate(1044.2 516.8) scale(0.8 1)">
<text x="0.0" y="0.0" font-family='"Liberation Sans", sans-serif' font-size="17" font-weight="bold" fill="#000" textLength="27.4" lengthAdjust="spacing" stroke="#000" stroke-width="0.55" stroke-linejoin="round" >NC</text>
</g>
<g transform="translate(1080.6 516.8) scale(0.8 1)">
<text x="0.0" y="0.0" font-family='"Liberation Sans", sans-serif' font-size="17" font-weight="bold" fill="#000" stroke="#000" stroke-width="0.55" stroke-linejoin="round" >C</text>
</g>
<g transform="translate(1107.7 516.8) scale(0.8 1)">
<text x="0.0" y="0.0" font-family='"Liberation Sans", sans-serif' font-size="17" font-weight="bold" fill="#000" textLength="27.9" lengthAdjust="spacing" stroke="#000" stroke-width="0.55" stroke-linejoin="round" >NO</text>
</g>
<polyline points="1140.9,514.3 1157.1,514.3" fill="none" stroke="#000" stroke-width="3" />
<g transform="translate(1172.5 516.8) scale(0.8 1)">
<text x="0.0" y="0.0" font-family='"Liberation Sans", sans-serif' font-size="17" font-weight="bold" fill="#000" textLength="27.8" lengthAdjust="spacing" stroke="#000" stroke-width="0.55" stroke-linejoin="round" >LG</text>
</g>
<text x="1206.8" y="439.2" font-family='"Liberation Serif", serif' font-size="7.5" font-weight="normal" fill="#000" textLength="40.5" lengthAdjust="spacingAndGlyphs" >TAMPER</text>
<rect x="1205.3" y="446.3" width="55.7" height="45.7" fill="#fff" stroke="#000" stroke-width="4.6" />
<circle cx="1232.3" cy="468.8" r="10.5" fill="#fff" stroke="#000" stroke-width="1.6" />
<circle cx="1232.3" cy="468.8" r="4.6" fill="#000" stroke="none" stroke-width="0" />
<polyline points="380.0,523.5 380.0,611.6 107.0,611.6" fill="none" stroke="#2222cc" stroke-width="1.8" />
<polyline points="415.3,523.5 415.3,874.4 114.4,874.4" fill="none" stroke="#000" stroke-width="3.6" />
<polyline points="450.2,523.5 450.2,643.4 254.6,643.4" fill="none" stroke="#e82020" stroke-width="1.8" />
<polyline points="478.6,523.5 478.6,807.7 372.0,807.7" fill="none" stroke="#e82020" stroke-width="1.8" />
<polyline points="545.0,523.5 545.0,870.8" fill="none" stroke="#e82020" stroke-width="1.8" />
<polyline points="577.0,523.5 577.0,763.0" fill="none" stroke="#e82020" stroke-width="1.8" />
<polyline points="607.9,523.5 607.9,763.0" fill="none" stroke="#000" stroke-width="3.6" />
<polyline points="607.9,739.8 593.0,739.8 593.0,763.0" fill="none" stroke="#000" stroke-width="1.8" />
<polyline points="638.1,635.6 1143.1,635.6 1143.1,872.0 1207.0,872.0" fill="none" stroke="#e82020" stroke-width="1.8" />
<polyline points="638.1,523.5 638.1,635.5" fill="none" stroke="#000" stroke-width="1.8" />
<rect x="630.4" y="552.2" width="15.5" height="40.3" fill="#fff" stroke="#000" stroke-width="2" />
<g transform="translate(642.0 589.3) rotate(-90)">
<text x="0.0" y="0.0" font-family='"Liberation Sans", sans-serif' font-size="11.5" font-weight="normal" fill="#000" textLength="29.4" lengthAdjust="spacingAndGlyphs" >R1,2K</text>
</g>
<circle cx="638.1" cy="635.5" r="4.0" fill="#000" stroke="none" stroke-width="0" />
<polyline points="675.5,523.5 675.5,741.5 628.4,741.5 628.4,763.0" fill="none" stroke="#ff0000" stroke-width="3.0" />
<polyline points="731.8,523.5 731.8,705.6 816.0,705.6 816.0,760.0" fill="none" stroke="#000" stroke-width="3.6" />
<polyline points="766.8,523.5 766.8,902.4 114.4,902.4" fill="none" stroke="#ff0000" stroke-width="3.6" />
<polyline points="766.8,686.7 836.8,686.7 836.8,760.0" fill="none" stroke="#ff0000" stroke-width="3.6" />
<polyline points="254.6,742.0 441.0,742.0 441.0,902.4" fill="none" stroke="#ff0000" stroke-width="3.6" />
<polyline points="801.5,523.5 801.5,657.7 1212.0,657.7" fill="none" stroke="#701010" stroke-width="1.8" />
<polyline points="895.4,614.9 1164.8,614.9 1164.8,787.4 1207.0,787.4" fill="none" stroke="#e82020" stroke-width="1.8" />
<polyline points="895.4,523.5 895.4,613.0" fill="none" stroke="#000" stroke-width="1.8" />
<rect x="887.7" y="552.2" width="15.5" height="40.3" fill="#fff" stroke="#000" stroke-width="2" />
<g transform="translate(899.3 589.3) rotate(-90)">
<text x="0.0" y="0.0" font-family='"Liberation Sans", sans-serif' font-size="11.5" font-weight="normal" fill="#000" textLength="29.4" lengthAdjust="spacingAndGlyphs" >R1,2K</text>
</g>
<circle cx="895.4" cy="613.0" r="4.0" fill="#000" stroke="none" stroke-width="0" />
<polyline points="926.4,523.5 926.4,558.9 1212.0,558.9" fill="none" stroke="#111" stroke-width="1.8" />
<polyline points="958.3,523.5 958.3,724.3 877.8,724.3 877.8,760.0" fill="none" stroke="#ff33ff" stroke-width="2.0" />
<polyline points="990.3,523.5 990.3,877.2 1060.0,877.2" fill="none" stroke="#000" stroke-width="3.6" />
<polyline points="1020.8,523.5 1020.8,860.5 1060.0,860.5" fill="none" stroke="#ff0000" stroke-width="3.6" />
<polyline points="1182.7,523.5 1182.7,741.2 898.8,741.2 898.8,760.0" fill="none" stroke="#108010" stroke-width="1.8" />
<polyline points="254.6,671.4 858.3,671.4 858.3,760.0" fill="none" stroke="#108010" stroke-width="1.8" />
<polyline points="254.6,685.9 275.4,685.9 275.4,825.2 114.4,825.2" fill="none" stroke="#108010" stroke-width="1.8" />
<polyline points="254.6,657.5 292.5,657.5 292.5,720.0" fill="none" stroke="#000" stroke-width="2.2" />
<polyline points="254.6,720.1 415.3,720.1" fill="none" stroke="#000" stroke-width="3.6" />
<polyline points="415.3,720.1 535.3,720.1 535.3,858.6" fill="none" stroke="#000" stroke-width="1.8" />
<polyline points="990.3,804.4 1207.0,804.4" fill="none" stroke="#000" stroke-width="1.8" />
<polyline points="1126.0,804.4 1126.0,887.4 1207.0,887.4" fill="none" stroke="#000" stroke-width="1.8" />
<polyline points="93.6,611.2 106.0,611.2" fill="none" stroke="#000" stroke-width="2" />
<polyline points="93.6,621.3 114.0,621.3" fill="none" stroke="#000" stroke-width="2" />
<polyline points="114.0,621.3 135.4,621.3 135.4,797.7 114.4,797.7" fill="none" stroke="#e82020" stroke-width="1.8" />
<polyline points="114.4,811.5 135.3,811.5" fill="none" stroke="#2222cc" stroke-width="2" />
<polyline points="135.3,811.0 135.3,874.4" fill="none" stroke="#000" stroke-width="1.8" />
<polyline points="114.4,839.7 133.0,839.7" fill="none" stroke="#f5a020" stroke-width="2" />
<polyline points="358.7,805.4 371.6,805.4" fill="none" stroke="#000" stroke-width="1.6" />
<polyline points="358.7,817.6 380.3,817.6" fill="none" stroke="#000" stroke-width="1.6" />
<polyline points="380.3,818.5 380.3,874.4" fill="none" stroke="#000" stroke-width="2.4" />
<polyline points="522.3,859.0 535.3,859.0" fill="none" stroke="#000" stroke-width="1.6" />
<polyline points="522.3,870.8 545.0,870.8" fill="none" stroke="#000" stroke-width="1.6" />
<polyline points="663.3,787.0 663.3,823.4" fill="none" stroke="#2222cc" stroke-width="1.8" />
<polyline points="680.7,787.0 680.7,823.4" fill="none" stroke="#e82020" stroke-width="1.8" />
<circle cx="106.4" cy="609.6" r="3.4" fill="#000" stroke="none" stroke-width="0" />
<circle cx="114.3" cy="623.0" r="3.4" fill="#000" stroke="none" stroke-width="0" />
<circle cx="292.5" cy="720.1" r="5.0" fill="#000" stroke="none" stroke-width="0" />
<circle cx="415.3" cy="720.1" r="5.6" fill="#000" stroke="none" stroke-width="0" />
<circle cx="415.3" cy="844.5" r="5.2" fill="#000" stroke="none" stroke-width="0" />
<circle cx="380.3" cy="874.4" r="5.2" fill="#000" stroke="none" stroke-width="0" />
<circle cx="134.8" cy="874.4" r="5.6" fill="#000" stroke="none" stroke-width="0" />
<circle cx="134.5" cy="839.7" r="3.2" fill="#000" stroke="none" stroke-width="0" />
<circle cx="371.8" cy="804.8" r="3.2" fill="#000" stroke="none" stroke-width="0" />
<circle cx="380.3" cy="819.0" r="3.2" fill="#000" stroke="none" stroke-width="0" />
<circle cx="441.0" cy="902.4" r="5.4" fill="#000" stroke="none" stroke-width="0" />
<circle cx="535.3" cy="858.6" r="3.2" fill="#000" stroke="none" stroke-width="0" />
<circle cx="544.4" cy="870.8" r="3.2" fill="#000" stroke="none" stroke-width="0" />
<circle cx="765.6" cy="684.8" r="5.2" fill="#000" stroke="none" stroke-width="0" />
<circle cx="990.3" cy="804.4" r="5.0" fill="#000" stroke="none" stroke-width="0" />
<circle cx="1124.5" cy="804.4" r="5.0" fill="#000" stroke="none" stroke-width="0" />
<rect x="31.4" y="582.0" width="61.0" height="17.8" fill="#fff" stroke="#000" stroke-width="2.4" />
<rect x="35.2" y="580.8" width="4.0" height="20.2" fill="#000" stroke="none" stroke-width="0" />
<rect x="84.6" y="580.8" width="4.0" height="20.2" fill="#000" stroke="none" stroke-width="0" />
<rect x="31.4" y="605.4" width="61.0" height="18.6" fill="#fff" stroke="#000" stroke-width="2.4" />
<rect x="35.2" y="604.2" width="4.0" height="21.0" fill="#000" stroke="none" stroke-width="0" />
<rect x="84.6" y="604.2" width="4.0" height="21.0" fill="#000" stroke="none" stroke-width="0" />
<polyline points="86.0,610.8 43.5,610.8 43.5,621.7 86.0,621.7" fill="none" stroke="#000" stroke-width="1.2" />
<circle cx="50.5" cy="609.4" r="2.2" fill="#000" stroke="none" stroke-width="0" />
<circle cx="72.0" cy="609.4" r="2.2" fill="#000" stroke="none" stroke-width="0" />
<polyline points="51.8,610.7 72.0,615.7" fill="none" stroke="#000" stroke-width="1" />
<rect x="299.0" y="777.9" width="58.5" height="18.5" fill="#fff" stroke="#000" stroke-width="2.4" />
<rect x="302.8" y="776.7" width="4.0" height="20.9" fill="#000" stroke="none" stroke-width="0" />
<rect x="349.7" y="776.7" width="4.0" height="20.9" fill="#000" stroke="none" stroke-width="0" />
<rect x="299.0" y="801.2" width="58.5" height="18.5" fill="#fff" stroke="#000" stroke-width="2.4" />
<rect x="302.8" y="800.0" width="4.0" height="20.9" fill="#000" stroke="none" stroke-width="0" />
<rect x="349.7" y="800.0" width="4.0" height="20.9" fill="#000" stroke="none" stroke-width="0" />
<polyline points="351.4,806.6 310.6,806.6 310.6,817.4 351.4,817.4" fill="none" stroke="#000" stroke-width="1.2" />
<circle cx="317.3" cy="805.2" r="2.2" fill="#000" stroke="none" stroke-width="0" />
<circle cx="338.0" cy="805.2" r="2.2" fill="#000" stroke="none" stroke-width="0" />
<polyline points="318.5,806.5 338.0,811.5" fill="none" stroke="#000" stroke-width="1" />
<rect x="460.9" y="831.9" width="60.2" height="16.7" fill="#fff" stroke="#000" stroke-width="2.4" />
<rect x="464.7" y="830.7" width="4.0" height="19.1" fill="#000" stroke="none" stroke-width="0" />
<rect x="513.3" y="830.7" width="4.0" height="19.1" fill="#000" stroke="none" stroke-width="0" />
<rect x="460.9" y="853.4" width="60.2" height="18.5" fill="#fff" stroke="#000" stroke-width="2.4" />
<rect x="464.7" y="852.2" width="4.0" height="20.9" fill="#000" stroke="none" stroke-width="0" />
<rect x="513.3" y="852.2" width="4.0" height="20.9" fill="#000" stroke="none" stroke-width="0" />
<polyline points="514.8,858.8 472.8,858.8 472.8,869.6 514.8,869.6" fill="none" stroke="#000" stroke-width="1.2" />
<circle cx="479.7" cy="857.4" r="2.2" fill="#000" stroke="none" stroke-width="0" />
<circle cx="501.0" cy="857.4" r="2.2" fill="#000" stroke="none" stroke-width="0" />
<polyline points="481.0,858.7 501.0,863.7" fill="none" stroke="#000" stroke-width="1" />
<text x="30.8" y="639.7" font-family='"Liberation Serif", serif' font-size="10.5" font-weight="bold" fill="#000" textLength="92.7" lengthAdjust="spacingAndGlyphs" stroke="#000" stroke-width="0.35" stroke-linejoin="round" >ST-460 C.MAGN.X</text>
<text x="30.8" y="650.6" font-family='"Liberation Serif", serif' font-size="10.5" font-weight="bold" fill="#000" textLength="91.2" lengthAdjust="spacingAndGlyphs" stroke="#000" stroke-width="0.35" stroke-linejoin="round" >PORTE BLINDAT</text>
<text x="30.8" y="661.2" font-family='"Liberation Serif", serif' font-size="10.5" font-weight="bold" fill="#000" textLength="91.2" lengthAdjust="spacingAndGlyphs" stroke="#000" stroke-width="0.35" stroke-linejoin="round" >INGRESSO TEMP</text>
<text x="177.6" y="775.8" font-family='"Liberation Serif", serif' font-size="10.5" font-weight="bold" fill="#000" textLength="82.1" lengthAdjust="spacingAndGlyphs" stroke="#000" stroke-width="0.35" stroke-linejoin="round" >SG-IDT 2 TECN.</text>
<text x="23.4" y="919.2" font-family='"Liberation Serif", serif' font-size="10.5" font-weight="bold" fill="#000" textLength="122.8" lengthAdjust="spacingAndGlyphs" stroke="#000" stroke-width="0.35" stroke-linejoin="round" >SG-IDT 2 TECN. IGRES.</text>
<text x="283.5" y="834.7" font-family='"Liberation Serif", serif' font-size="10.5" font-weight="bold" fill="#000" textLength="90.5" lengthAdjust="spacingAndGlyphs" stroke="#000" stroke-width="0.35" stroke-linejoin="round" >C.MAG.UNIVERS.</text>
<text x="459.5" y="885.8" font-family='"Liberation Serif", serif' font-size="10.5" font-weight="bold" fill="#000" textLength="91.3" lengthAdjust="spacingAndGlyphs" stroke="#000" stroke-width="0.35" stroke-linejoin="round" >C.MAG.UNIVERS.</text>
<text x="562.0" y="800.5" font-family='"Liberation Serif", serif' font-size="10.5" font-weight="bold" fill="#000" textLength="38.0" lengthAdjust="spacingAndGlyphs" stroke="#000" stroke-width="0.35" stroke-linejoin="round" >SV-MSI</text>
<text x="610.0" y="800.5" font-family='"Liberation Serif", serif' font-size="10.5" font-weight="bold" fill="#000" textLength="66.7" lengthAdjust="spacingAndGlyphs" stroke="#000" stroke-width="0.35" stroke-linejoin="round" >MODAMELI</text>
<text x="615.2" y="887.8" font-family='"Liberation Serif", serif' font-size="10.5" font-weight="bold" fill="#000" textLength="83.2" lengthAdjust="spacingAndGlyphs" stroke="#000" stroke-width="0.35" stroke-linejoin="round" >X TAPPARELLE</text>
<text x="990.3" y="905.7" font-family='"Liberation Serif", serif' font-size="10.5" font-weight="bold" fill="#000" textLength="77.4" lengthAdjust="spacingAndGlyphs" stroke="#000" stroke-width="0.35" stroke-linejoin="round" >SS-610 SIRENA</text>
<text x="1191.4" y="831.4" font-family='"Liberation Serif", serif' font-size="10.5" font-weight="bold" fill="#000" textLength="84.2" lengthAdjust="spacingAndGlyphs" stroke="#000" stroke-width="0.35" stroke-linejoin="round" >LED T.U.M L.ON</text>
<text x="1191.4" y="915.6" font-family='"Liberation Serif", serif' font-size="10.5" font-weight="bold" fill="#000" textLength="89.2" lengthAdjust="spacingAndGlyphs" stroke="#000" stroke-width="0.35" stroke-linejoin="round" >LED TEST LINEE</text>
<path d="M169.0,699.9 L169.0,653.4 L170.5,648.5 L174.8,645.8 L214.9,645.8 L225.7,655.5 L225.7,743.2 L214.9,755.1 L187.8,755.1 L169.6,706.0" fill="#fff" stroke="#000" stroke-width="1.2" stroke-linejoin="round"/>
<rect x="170.1" y="655.5" width="22.7" height="44.0" fill="url(#hatch)" stroke="#444" stroke-width="1.2" />
<polygon points="225.7,668.5 240.9,676.1 240.9,694.5 225.7,701.0" fill="#c0c0c0" stroke="#000" stroke-width="2"/>
<rect x="240.9" y="629.5" width="13.6" height="126.1" fill="#c0c0c0" stroke="#444" stroke-width="1.2" />
<path d="M29.2,855.0 L29.2,808.0 L30.5,803.5 L34.6,800.5 L74.7,800.5 L86.6,808.7 L86.6,898.6 L74.7,908.3 L46.6,908.3 L29.6,861.8" fill="#fff" stroke="#000" stroke-width="1.2" stroke-linejoin="round"/>
<rect x="30.3" y="809.8" width="22.8" height="43.7" fill="url(#hatch)" stroke="#444" stroke-width="1.2" />
<polygon points="86.6,822.8 100.0,830.4 100.0,847.7 86.6,854.2" fill="#c0c0c0" stroke="#000" stroke-width="2"/>
<rect x="100.0" y="783.8" width="14.3" height="125.2" fill="#c0c0c0" stroke="#444" stroke-width="1.2" />
<rect x="562.9" y="763.1" width="129.9" height="24.1" fill="#fff" stroke="#000" stroke-width="2" />
<circle cx="574.9" cy="775.2" r="5.0" fill="#fff" stroke="#000" stroke-width="1.4" />
<line x1="571.4" y1="771.7" x2="578.4" y2="778.7" stroke="#000" stroke-width="1.4"/>
<circle cx="593.0" cy="775.2" r="5.0" fill="#fff" stroke="#000" stroke-width="1.4" />
<line x1="589.5" y1="778.7" x2="596.5" y2="771.7" stroke="#000" stroke-width="1.4"/>
<circle cx="609.9" cy="775.2" r="5.0" fill="#fff" stroke="#000" stroke-width="1.4" />
<line x1="604.9" y1="775.2" x2="614.9" y2="775.2" stroke="#000" stroke-width="1.4"/>
<circle cx="627.2" cy="775.2" r="5.0" fill="#fff" stroke="#000" stroke-width="1.4" />
<line x1="627.2" y1="770.2" x2="627.2" y2="780.2" stroke="#000" stroke-width="1.4"/>
<circle cx="645.3" cy="775.2" r="5.0" fill="#fff" stroke="#000" stroke-width="1.4" />
<line x1="641.8" y1="771.7" x2="648.8" y2="778.7" stroke="#000" stroke-width="1.4"/>
<circle cx="662.6" cy="775.2" r="5.0" fill="#fff" stroke="#000" stroke-width="1.4" />
<line x1="659.1" y1="778.7" x2="666.1" y2="771.7" stroke="#000" stroke-width="1.4"/>
<circle cx="680.3" cy="775.2" r="5.0" fill="#fff" stroke="#000" stroke-width="1.4" />
<line x1="676.8" y1="771.7" x2="683.8" y2="778.7" stroke="#000" stroke-width="1.4"/>
<rect x="636.1" y="823.4" width="56.7" height="54.3" fill="#fff" stroke="#000" stroke-width="2" />
<text x="639.3" y="848.4" font-family='"Liberation Serif", serif' font-size="16" font-weight="normal" fill="#000" textLength="49.0" lengthAdjust="spacingAndGlyphs" stroke="#000" stroke-width="0.5" stroke-linejoin="round" >SS-SAL</text>
<text x="663.4" y="869.7" font-family='"Liberation Serif", serif' font-size="16" font-weight="normal" fill="#000" text-anchor="middle" stroke="#000" stroke-width="0.3" stroke-linejoin="round" >1</text>
<rect x="624.8" y="826.5" width="7.2" height="7.5" fill="#fff" stroke="#000" stroke-width="1.8" />
<polyline points="626.4,834.0 626.4,870.0" fill="none" stroke="#000" stroke-width="1.4" />
<polyline points="630.4,834.0 630.4,870.0" fill="none" stroke="#000" stroke-width="1.4" />
<circle cx="628.4" cy="873.7" r="3.8" fill="#fff" stroke="#000" stroke-width="1.8" />
<polyline points="632.0,830.3 636.0,830.3" fill="none" stroke="#000" stroke-width="1.4" />
<polyline points="632.0,873.7 636.0,873.7" fill="none" stroke="#000" stroke-width="1.4" />
<rect x="805.8" y="760.0" width="103.2" height="145.7" fill="#fff" stroke="#000" stroke-width="2" />
<line x1="818.5" y1="772.7" x2="839.5" y2="772.7" stroke="#999" stroke-width="3.4" stroke-linecap="round"/>
<line x1="818.5" y1="783.1" x2="839.5" y2="783.1" stroke="#999" stroke-width="3.4" stroke-linecap="round"/>
<line x1="818.5" y1="793.8" x2="839.5" y2="793.8" stroke="#999" stroke-width="3.4" stroke-linecap="round"/>
<line x1="875.2" y1="772.7" x2="896.3" y2="772.7" stroke="#999" stroke-width="3.4" stroke-linecap="round"/>
<line x1="875.2" y1="783.1" x2="896.3" y2="783.1" stroke="#999" stroke-width="3.4" stroke-linecap="round"/>
<line x1="875.2" y1="793.8" x2="896.3" y2="793.8" stroke="#999" stroke-width="3.4" stroke-linecap="round"/>
<text x="816.5" y="829.5" font-family='"Liberation Serif", serif' font-size="22" font-weight="normal" fill="#000" textLength="78.6" lengthAdjust="spacingAndGlyphs" >SIRENA</text>
<rect x="824.4" y="861.3" width="65.9" height="23.0" fill="#ff9933" stroke="#993300" stroke-width="1.2" />
<rect x="1059.8" y="851.4" width="16.2" height="32.9" fill="#000" stroke="none" stroke-width="0" />
<polygon points="1075.5,851.4 1104.6,826.3 1104.6,910.9 1075.5,884.3" fill="#000"/>
<rect x="1211.7" y="530.7" width="63.1" height="160.6" fill="#fff" stroke="#000" stroke-width="1.6" />
<g transform="translate(1249.5 537.5) rotate(90)">
<text x="0.0" y="0.0" font-family='"Liberation Serif", serif' font-size="25" font-weight="normal" fill="#000" textLength="145.0" lengthAdjust="spacingAndGlyphs" >CHIAM. GSM</text>
</g>
<g transform="translate(1221.3 543.9) rotate(90)">
<text x="0.0" y="0.0" font-family='"Liberation Serif", serif' font-size="24" font-weight="normal" fill="#000" textLength="25.5" lengthAdjust="spacingAndGlyphs" >R1</text>
</g>
<g transform="translate(1221.3 646) rotate(90)">
<text x="0.0" y="0.0" font-family='"Liberation Serif", serif' font-size="24" font-weight="normal" fill="#000" textLength="26.5" lengthAdjust="spacingAndGlyphs" >U1</text>
</g>
<polyline points="1229.2,758.3 1240.4,758.3" fill="none" stroke="#000" stroke-width="2" />
<polyline points="1234.8,752.7 1234.8,763.9" fill="none" stroke="#000" stroke-width="2" />
<rect x="1208.5" y="784.8" width="21.0" height="5.6" fill="#b4b4b4" stroke="none" stroke-width="0" />
<polyline points="1209.0,784.8 1229.5,784.8" fill="none" stroke="#555" stroke-width="0.8" />
<polyline points="1209.0,790.4 1229.5,790.4" fill="none" stroke="#555" stroke-width="0.8" />
<circle cx="1207.6" cy="788.0" r="3.2" fill="#000" stroke="none" stroke-width="0" />
<rect x="1208.5" y="801.8" width="21.0" height="5.6" fill="#b4b4b4" stroke="none" stroke-width="0" />
<polyline points="1209.0,801.8 1229.5,801.8" fill="none" stroke="#555" stroke-width="0.8" />
<polyline points="1209.0,807.4 1229.5,807.4" fill="none" stroke="#555" stroke-width="0.8" />
<circle cx="1207.6" cy="805.0" r="3.2" fill="#000" stroke="none" stroke-width="0" />
<path d="M1238,778.6 H1260.8 A18.2,18.2 0 0 1 1260.8,815.1 H1238 Z" fill="#ff9c8e" stroke="#703030" stroke-width="1.1"/>
<rect x="1238.3" y="784.6" width="29.7" height="6.0" fill="#bcbcbc" stroke="none" stroke-width="0" />
<polyline points="1238.3,784.6 1268.0,784.6" fill="none" stroke="#703030" stroke-width="0.9" />
<polyline points="1238.3,790.6 1262.0,790.6" fill="none" stroke="#703030" stroke-width="0.9" />
<path d="M1238.3,800.6 Q1241,796.6 1247,796.0 L1258,795.6 L1262.5,790.6 H1268 V810.6 H1238.3 Z" fill="#bcbcbc"/>
<path d="M1238.3,800.6 Q1241,796.6 1247,796.0 L1258,795.6 L1262.5,790.6" fill="none" stroke="#703030" stroke-width="0.9"/>
<polyline points="1238.3,810.6 1268.0,810.6" fill="none" stroke="#703030" stroke-width="0.9" />
<path d="M1266,788.6 l-3,3 l3,1 l-3,3 l3,1" fill="none" stroke="#502020" stroke-width="0.9"/>
<rect x="1229.0" y="770.2" width="9.3" height="49.1" fill="#f0503c" stroke="#802020" stroke-width="1" />
<polyline points="1229.2,842.4 1240.4,842.4" fill="none" stroke="#000" stroke-width="2" />
<polyline points="1234.8,836.8 1234.8,848.0" fill="none" stroke="#000" stroke-width="2" />
<rect x="1208.5" y="868.8" width="21.0" height="5.6" fill="#b4b4b4" stroke="none" stroke-width="0" />
<polyline points="1209.0,868.8 1229.5,868.8" fill="none" stroke="#555" stroke-width="0.8" />
<polyline points="1209.0,874.4 1229.5,874.4" fill="none" stroke="#555" stroke-width="0.8" />
<circle cx="1207.6" cy="872.0" r="3.2" fill="#000" stroke="none" stroke-width="0" />
<rect x="1208.5" y="884.5" width="21.0" height="5.6" fill="#b4b4b4" stroke="none" stroke-width="0" />
<polyline points="1209.0,884.5 1229.5,884.5" fill="none" stroke="#555" stroke-width="0.8" />
<polyline points="1209.0,890.1 1229.5,890.1" fill="none" stroke="#555" stroke-width="0.8" />
<circle cx="1207.6" cy="887.7" r="3.2" fill="#000" stroke="none" stroke-width="0" />
<path d="M1238,862.7 H1261.2 A17.8,17.8 0 0 1 1261.2,898.4 H1238 Z" fill="#ff9c8e" stroke="#703030" stroke-width="1.1"/>
<rect x="1238.3" y="868.6" width="29.7" height="6.0" fill="#bcbcbc" stroke="none" stroke-width="0" />
<polyline points="1238.3,868.6 1268.0,868.6" fill="none" stroke="#703030" stroke-width="0.9" />
<polyline points="1238.3,874.6 1262.0,874.6" fill="none" stroke="#703030" stroke-width="0.9" />
<path d="M1238.3,884.6 Q1241,880.6 1247,880.0 L1258,879.6 L1262.5,874.6 H1268 V893.9 H1238.3 Z" fill="#bcbcbc"/>
<path d="M1238.3,884.6 Q1241,880.6 1247,880.0 L1258,879.6 L1262.5,874.6" fill="none" stroke="#703030" stroke-width="0.9"/>
<polyline points="1238.3,893.9 1268.0,893.9" fill="none" stroke="#703030" stroke-width="0.9" />
<path d="M1266,872.6 l-3,3 l3,1 l-3,3 l3,1" fill="none" stroke="#502020" stroke-width="0.9"/>
<rect x="1229.0" y="854.3" width="9.3" height="48.4" fill="#f0503c" stroke="#802020" stroke-width="1" />
</svg>
<div class="ln" style="top:947.2px;word-spacing:0.72px">SCHEMA DÌ PRINCIPIO, SI RIPORTANO ALCUNI ESEMPI DÌ COLLEGAMENTO UTILI PER COMPRENDERE LE FUN-</div>
<div class="ln" style="top:979.4px;word-spacing:1.30px">ZIONI DÌ BASE DELLA CENTRALE CHE DEVI ADATTARE ALLE TUE ESIGENZE. PER I COLLEGAMENTI ATTIENITI</div>
<div class="ln" style="top:1011.6px;word-spacing:0.78px">AGLI SCHEMI  DEI SINGOLI APPARATI. REALIZZA L’IMPIANTO DÌ ALLARME IN MODO TALE CHE SIA UNICO. <b>OT-</b></div>
<div class="ln" style="top:1043.9px;word-spacing:24.32px"><b>TIENI LA MASSIMA SICUREZZA PERSONALIZZANDOLO IL PIÙ POSSIBILE.</b> LA SICUREZZA E</div>
<div class="ln" style="top:1076.1px;word-spacing:1.39px">L’INATTACCABILITA DÌ UN IMPIANTO D’ALLARME STA SOPRATTUTTO NEL REALIZZARE UN IMPIANTO DÌ SICU-</div>
<div class="ln" style="top:1108.3px;word-spacing:3.12px">REZZA UNICO. TUTTO CIO CHE E INDUSTRIALIZZATO SCHEMATICO E UGUALE È CONOSCIUTO AMPIAMANTE</div>
<div class="ln" style="top:1140.5px;word-spacing:3.28px">DEI LADRI. DIFFIDI DEI PRODOTTI PREMONTATI; CON CHIAVI O RADIOCOMANDI PROGRAMMATI. QUALCUNO</div>
<div class="ln" style="top:1172.7px;word-spacing:0.89px">CONOSCE IL VOSTRO CODICE E IL VOSTRO INDIRIZZO. TI RACCOMANDO DÌ COLLEGARE SEMPRE LA LG O LI-</div>
<div class="ln" style="top:1205.0px;word-spacing:5.13px">NEA 24 ORE CHE FUNZIONA SEMPRE ANCHE AD IMPIANTO DISINSERITO, CHIUNQUE TENTI DÌ APRIRE UN</div>
<div class="ln" style="top:1237.2px;word-spacing:1.3px">QUALSIASI COMPONENTE O SENSORE OPPURE TAGLIARE I CAVI PROVOCA L’ALLARME PER MONOMISSIONE</div>
</div></body></html>
